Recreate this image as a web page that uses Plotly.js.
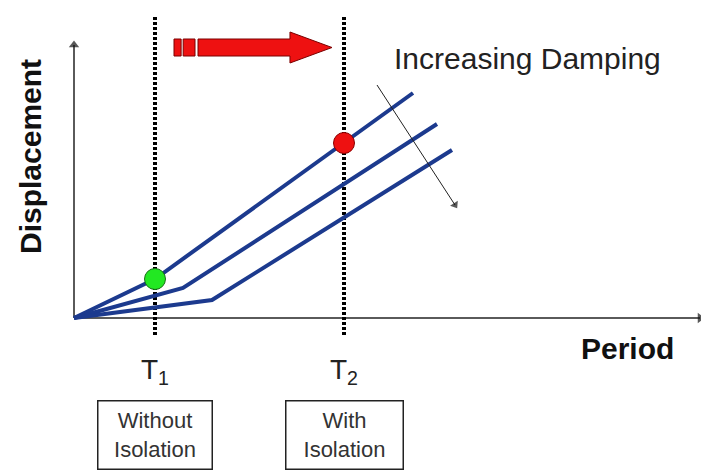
<!DOCTYPE html>
<html>
<head>
<meta charset="utf-8">
<script src="https://cdn.plot.ly/plotly-3.0.1.min.js"></script>
<style>
  html, body { margin: 0; padding: 0; background: #ffffff; }
  #chart { width: 701px; height: 473px; }
</style>
</head>
<body>
<div id="chart"></div>
<script>
// Isolation periods (arbitrary period units)
const periodT1 = 8.1;
const periodT2 = 27.0;

// Displacement spectra for three damping levels (low -> high damping)
const lowDampPeriod  = [0, 8.1, 33.9];
const lowDampDisp    = [0, 3.9, 22.5];
const midDampPeriod  = [0, 10.9, 36.3];
const midDampDisp    = [0, 3.0, 19.4];
const highDampPeriod = [0, 13.8, 37.8];
const highDampDisp   = [0, 1.8, 16.8];

// Response points without / with isolation
const pointPeriods = [8.1, 27.0];
const pointDisps   = [3.9, 17.5];
const pointColors  = ['#22e822', '#ee1111'];
const pointEdges   = ['#1a6e1a', '#8b0000'];

// Period-shift arrow (start, end) and its height
const shiftArrowPeriod = [10.0, 25.8];
const shiftArrowDisp   = 27.05;

// Axis extents
const axisEnd = { period: 62.6, disp: 27.3 };

// "Increasing damping" indicator arrow (tail, head)
const dampArrowPeriod = [30.3, 38.1];
const dampArrowDisp   = [23.3, 11.3];

// Text
const boxLabels = ['Without<br>Isolation', 'With<br>Isolation'];
const periodLabels = ['T<sub>1</sub>', 'T<sub>2</sub>'];

const FONT = '"Liberation Sans", Arial, Helvetica, sans-serif';
const lineBlue = '#1c3a8e';

const traces = [];

// Lines ending in an arrowhead
function arrowLine(xs, ys, color, width, headSize, headColor) {
  return {
    x: xs, y: ys, mode: 'lines+markers',
    line: { color: color, width: width },
    marker: { symbol: 'triangle-up', angleref: 'previous', size: [0, headSize],
              color: headColor || color, line: { width: 0 } },
    hoverinfo: 'skip'
  };
}
traces.push(arrowLine([0, axisEnd.period], [0, 0], '#5a5a5a', 2, 9, '#111111'));
traces.push(arrowLine([0, 0], [0, axisEnd.disp], '#5a5a5a', 2, 9, '#111111'));

// Vertical dashed markers at T1 and T2
[periodT1, periodT2].forEach(t => {
  traces.push({
    x: [t, t], y: [30.1, -1.7], mode: 'lines',
    line: { color: '#000000', width: 4, dash: '3px,2px' },
    hoverinfo: 'skip'
  });
});

// Spectra
[[lowDampPeriod, lowDampDisp], [midDampPeriod, midDampDisp], [highDampPeriod, highDampDisp]]
  .forEach(([px, py]) => {
    traces.push({
      x: px, y: py, mode: 'lines',
      line: { color: lineBlue, width: 4 },
      hoverinfo: 'skip'
    });
  });

// Damping direction arrow
traces.push(arrowLine(dampArrowPeriod, dampArrowDisp, '#222222', 1, 8, '#111111'));

// Response points
traces.push({
  x: pointPeriods, y: pointDisps, mode: 'markers',
  marker: { size: 21, color: pointColors, line: { color: pointEdges, width: 1 } },
  hoverinfo: 'skip'
});

// Block arrow for the period shift, built from its start/end values
function blockArrow(x0, x1, yc) {
  const span = x1 - x0;
  const bodyH = 0.85, headH = 1.55;
  const s1 = [x0, x0 + span * 0.045];
  const s2 = [x0 + span * 0.058, x0 + span * 0.133];
  const b0 = x0 + span * 0.152;
  const hb = x0 + span * 0.734;
  const parts = [];
  [s1, s2].forEach(([a, b]) => {
    parts.push({ x: [a, b, b, a, a], y: [yc - bodyH, yc - bodyH, yc + bodyH, yc + bodyH, yc - bodyH] });
  });
  parts.push({
    x: [b0, hb, hb, x1, hb, hb, b0, b0],
    y: [yc - bodyH, yc - bodyH, yc - headH, yc, yc + headH, yc + bodyH, yc + bodyH, yc - bodyH]
  });
  return parts.map(p => ({
    x: p.x, y: p.y, mode: 'lines', fill: 'toself',
    fillcolor: '#ee1111', line: { color: '#7a0000', width: 1 },
    hoverinfo: 'skip'
  }));
}
blockArrow(shiftArrowPeriod[0], shiftArrowPeriod[1], shiftArrowDisp).forEach(t => traces.push(t));

const annotations = [];

annotations.push({
  x: 31.8, y: 26.0, xref: 'x', yref: 'y', xanchor: 'left', yanchor: 'middle',
  text: 'Increasing Damping', showarrow: false,
  font: { family: FONT, size: 30, color: '#222222' }
});

annotations.push({
  x: -4.4, y: 16.1, xref: 'x', yref: 'y', textangle: -90,
  text: '<b>Displacement</b>', showarrow: false,
  font: { family: FONT, size: 30, color: '#111111' }
});

annotations.push({
  x: 50.5, y: -3.0, xref: 'x', yref: 'y', xanchor: 'left', yanchor: 'middle',
  text: '<b>Period</b>', showarrow: false,
  font: { family: FONT, size: 30, color: '#111111' }
});

[periodT1, periodT2].forEach((t, i) => {
  annotations.push({
    x: t, y: -5.3, xref: 'x', yref: 'y', xanchor: 'center', yanchor: 'middle',
    text: periodLabels[i], showarrow: false,
    font: { family: FONT, size: 28, color: '#222222' }
  });
  annotations.push({
    x: t, y: -11.7, xref: 'x', yref: 'y', xanchor: 'center', yanchor: 'middle',
    text: boxLabels[i], showarrow: false,
    width: i === 0 ? 113 : 116, height: 67, borderpad: 0,
    bordercolor: '#222222', borderwidth: 1.5, bgcolor: '#ffffff',
    font: { family: FONT, size: 22, color: '#333333' }
  });
});

const layout = {
  width: 701, height: 473,
  margin: { l: 0, r: 0, t: 0, b: 0 },
  paper_bgcolor: '#ffffff', plot_bgcolor: '#ffffff',
  showlegend: false,
  xaxis: { range: [-7.4, 62.7], visible: false, fixedrange: true },
  yaxis: { range: [-15.5, 31.8], visible: false, fixedrange: true },
  annotations: annotations
};

Plotly.newPlot('chart', traces, layout, { staticPlot: true, displayModeBar: false });
</script>
</body>
</html>
